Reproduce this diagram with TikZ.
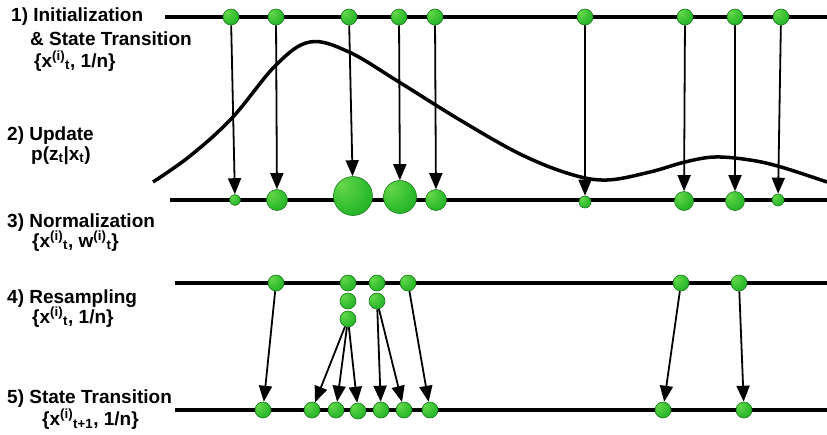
\documentclass[tikz,border=0pt]{standalone}
\usepackage{fontspec}
\setmainfont{Liberation Sans}
\usetikzlibrary{arrows.meta}
\definecolor{gl}{HTML}{66D84A}
\definecolor{gm}{HTML}{2DBA2D}
\definecolor{gd}{HTML}{0C9C0C}
\definecolor{gb}{HTML}{1E7A1E}
\pgfdeclareradialshading{gball}{\pgfpoint{-15bp}{15bp}}{color(0bp)=(gl); color(30bp)=(gm); color(65bp)=(gd); color(100bp)=(gd)}
\begin{document}
\begin{tikzpicture}[x=1pt,y=-1pt,
  ball/.style={circle, draw=gb, line width=0.6pt, shade, shading=gball, inner sep=0pt, minimum size=#1},
  ball/.default=16pt,
  axisline/.style={line width=3.5pt},
  curve/.style={line width=3.5pt, line join=round},
  arr/.style={line width=1.8pt, -{Triangle[length=16pt 0,width=13pt 0]}},
  lbl/.style={anchor=base west, inner sep=0pt, font=\fontsize{19}{22}\selectfont\bfseries}]
\useasboundingbox (0,0) rectangle (827,434);

% labels
\node[lbl] (l1a) at (11,21) {1) Initialization};
\node[lbl] (l1b) at (30,45) {\& State Transition};
\node[lbl] (l1c) at (34,67) {\{x\textsuperscript{(i)}\textsubscript{t}, 1/n\}};
\node[lbl] (l2a) at (7,140) {2) Update};
\node[lbl] (l2b) at (31,160) {p(z\textsubscript{t}|x\textsubscript{t})};
\node[lbl] (l3a) at (7,227) {3) Normalization};
\node[lbl] (l3b) at (32,247) {\{x\textsuperscript{(i)}\textsubscript{t}, w\textsuperscript{(i)}\textsubscript{t}\}};
\node[lbl] (l4a) at (7,303) {4) Resampling};
\node[lbl] (l4b) at (32,323) {\{x\textsuperscript{(i)}\textsubscript{t}, 1/n\}};
\node[lbl] (l5a) at (7,403) {5) State Transition};
\node[lbl] (l5b) at (42,425) {\{x\textsuperscript{(i)}\textsubscript{t+1}, 1/n\}};

% axis lines
\coordinate (A1) at (165,17);  \coordinate (B1) at (827,17);
\coordinate (A2) at (170,200); \coordinate (B2) at (827,200);
\coordinate (A3) at (175,283); \coordinate (B3) at (827,283);
\coordinate (A4) at (175,410); \coordinate (B4) at (827,410);
\draw[axisline] (A1) -- (B1);
\draw[axisline] (A2) -- (B2);
\draw[axisline] (A3) -- (B3);
\draw[axisline] (A4) -- (B4);

% likelihood curve
\draw[curve] plot[smooth, tension=0.6] coordinates {(153,182) (190,156) (232,118) (276,65) (310,42) (349,52) (399,82) (460,120) (520,154) (570,174) (607,180) (650,172) (685,162) (715,157) (750,160) (781,167) (827,182)};

% top particles
\foreach \n/\x in {1/231,2/276,3/349,4/399,5/435,6/585,7/685,8/735,9/781}
  \node[ball] (t\n) at (\x,17) {};

% weighted particles
\node[ball=11pt] (b1) at (235,200) {};
\node[ball=21pt] (b2) at (277,200) {};
\node[ball=39pt] (b3) at (353,196) {};
\node[ball=33pt] (b4) at (400,197) {};
\node[ball=21pt] (b5) at (436,200) {};
\node[ball=12pt] (b6) at (585,202) {};
\node[ball=19pt] (b7) at (684,201) {};
\node[ball=19pt] (b8) at (735,201) {};
\node[ball=12pt] (b9) at (778,200) {};

% resampled particles
\node[ball] (r1) at (276,283) {};
\node[ball] (r2) at (348,283) {};
\node[ball] (r3) at (348,301) {};
\node[ball] (r4) at (348,319) {};
\node[ball] (r5) at (377,283) {};
\node[ball] (r6) at (377,301) {};
\node[ball] (r7) at (408,283) {};
\node[ball] (r8) at (681,283) {};
\node[ball] (r9) at (739,283) {};

% propagated particles
\foreach \n/\x/\y in {1/263/410,2/312/410,3/336/410,4/358/411,5/381/410,6/404/410,7/430/410,8/663/410,9/744/410}
  \node[ball] (s\n) at (\x,\y) {};

% arrows
\foreach \n in {1,...,9}
  \draw[arr] (t\n) -- (b\n);
\draw[arr] (r1) -- (s1);
\draw[arr] (r4) -- (s2);
\draw[arr] (r4) -- (s3);
\draw[arr] (r4) -- (s4);
\draw[arr] (r6) -- (s5);
\draw[arr] (r6) -- (s6);
\draw[arr] (r7) -- (s7);
\draw[arr] (r8) -- (s8);
\draw[arr] (r9) -- (s9);
\end{tikzpicture}
\end{document}
